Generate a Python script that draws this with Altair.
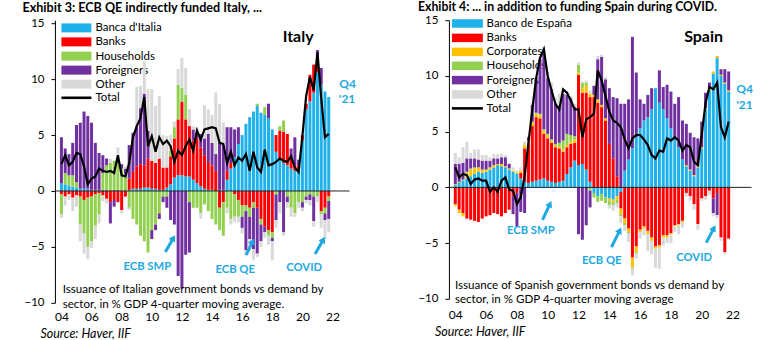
import math
import altair as alt
import pandas as pd

# ---------------- data (quarterly, 2004Q1 .. 2021Q4) ----------------
N_Q = 72
QUARTERS = [2004 + i / 4 for i in range(N_Q)]
TICK_YEARS = list(range(2004, 2023, 2))
Y_TICKS = [-10, -5, 0, 5, 10, 15]

# Italy, % GDP, 4-quarter moving average
it_banca = [0.7, 0.6, 0.5, 0.4, 0.3, 0.2, 0.2, 0.2, 0.1, 0.1, 0.1, 0.1,
            0.1, 0.0, 0.1, 0.1, 0.0, 0.0, 0.1, 0.2, 0.2, 0.2, 0.3, 0.3,
            0.2, 0.2, 0.1, 0.1, 0.3, 0.6, 1.2, 1.4, 1.4, 1.3, 1.3, 1.0,
            0.7, 0.4, 0.2, 0.1, 0.1, 0.0, 0.1, 0.1, 1.0, 2.0, 3.0, 4.2,
            5.0, 6.0, 6.6, 7.1, 7.6, 7.0, 6.8, 6.5, 5.5, 3.5, 2.8, 2.5,
            2.3, 2.0, 1.8, 2.0, 4.5, 7.3, 8.0, 8.8, 10.6, 9.5, 8.9, 8.4]
it_banks = [-0.3, -0.5, -0.3, -0.6, -0.4, -0.5, -0.8, -0.6, -0.5, -0.3, -0.2, -0.4,
            -0.7, -1.0, -0.8, -1.0, -1.7, -0.5, 1.0, 1.5, 2.0, 2.2, 2.0, 2.6,
            2.5, 2.3, 2.8, 2.0, 1.8, 2.5, 3.5, 5.0, 6.6, 5.1, 4.5, 3.5,
            4.0, 3.5, 3.0, 2.5, 2.2, 1.8, -1.5, -1.0, 0.8, 0.5, -0.3, -0.8,
            -1.3, -1.3, -1.5, -1.0, -1.5, -2.5, -3.2, -3.5, -3.7, 1.5, 2.6, 2.8,
            2.8, 1.0, 0.5, 0.3, 0.5, 0.5, 2.4, 2.5, 0.5, -1.8, -1.5, -0.5]
it_households = [-1.8, 1.0, 0.9, 1.0, 0.5, -2.5, -3.0, -4.4, -4.0, -2.8, -1.9, 1.5,
                 2.2, 2.5, 2.6, 2.4, 2.0, 1.5, -1.5, -2.5, -3.0, -4.0, -4.5, -5.5,
                 -3.5, -3.0, -2.0, -0.5, -0.5, 0.5, 1.0, 3.1, 1.2, 2.2, -1.0, -1.5,
                 -1.5, -2.0, -1.2, -1.8, -2.5, -3.0, -2.0, -3.0, -1.5, -2.5, -2.0, -1.5,
                 -1.0, -0.5, -0.8, -0.5, 0.2, -0.5, 0.7, -0.5, -0.5, -0.3, 0.4, 1.0,
                 -0.5, -1.5, -2.0, -1.0, -1.0, -0.5, -0.3, -0.5, -0.5, -0.3, -0.5, -0.4]
it_foreigners = [4.1, 2.2, 1.9, 2.9, 5.1, 5.9, 6.9, 6.5, 6.0, 4.2, 3.3, 1.6,
                 0.6, -1.9, -0.6, 0.3, 0.4, 0.5, 3.0, 3.5, 3.5, 5.0, 6.4, 2.5,
                 -0.8, -0.5, -0.5, -0.5, -1.0, -2.6, -3.0, -7.6, -8.7, -5.7, -4.5, 1.0,
                 0.5, 1.2, 1.5, 2.5, 2.0, 1.5, 4.2, 4.0, 3.9, 3.2, 2.5, 1.5,
                 -1.0, -3.5, -2.0, -3.7, -4.1, -1.5, -0.5, 1.3, -0.3, -2.3, -1.0, -3.7,
                 -0.5, 0.8, 2.5, 0.5, -0.5, -0.3, -0.5, -2.2, 1.5, 1.5, -0.6, -1.6]
it_other = [-0.3, -0.8, -0.5, -1.2, -1.0, -1.5, -1.8, -1.1, -0.6, -1.2, -0.8, -0.5,
            -0.4, 0.4, 0.0, 1.1, -0.3, 0.2, -0.2, 0.0, 3.6, 2.0, 2.9, 3.7,
            6.4, 5.1, 5.6, 2.9, 2.8, 1.4, 0.5, 1.4, 2.7, 2.4, 1.5, 0.3,
            0.5, -0.5, 3.0, 2.2, 2.5, 5.5, 3.5, 2.0, -0.5, -0.5, -0.5, -0.5,
            -0.5, -0.5, -1.0, -1.0, -0.3, -0.5, -0.5, -0.8, -1.7, -0.7, -1.0, -0.3,
            -0.5, -0.8, -0.3, -0.5, -0.3, -0.3, -0.5, -0.5, -0.5, -1.2, -1.7, -1.2]
it_total = [2.4, 3.2, 2.3, 2.6, 3.4, 3.3, 2.2, 0.6, 1.1, 1.3, 2.0, 1.8,
            1.7, 1.8, 1.6, 3.2, 1.4, 1.3, 2.5, 4.8, 5.8, 6.5, 8.4, 4.0,
            4.9, 3.5, 4.8, 4.2, 4.5, 4.0, 2.6, 3.6, 3.2, 4.0, 4.6, 3.6,
            5.4, 4.6, 5.5, 5.6, 5.7, 5.6, 4.3, 4.2, 2.5, 3.5, 2.3, 3.0,
            2.7, 3.3, 1.8, 3.5, 2.1, 1.7, 3.7, 2.3, 2.4, 2.6, 2.9, 2.7,
            2.6, 3.1, 2.1, 1.7, 4.9, 8.5, 10.2, 9.0, 12.4, 8.3, 4.8, 5.1]

# Spain, % GDP, 4-quarter moving average
es_banco = [0.2, 0.4, 0.6, 0.8, 1.0, 1.2, 1.4, 1.3, 1.4, 1.6, 1.8, 2.0,
            1.9, 1.8, 1.6, 1.4, 1.2, 0.8, 0.5, 0.4, 0.5, 0.6, 0.7, 0.8,
            0.6, 0.5, 0.4, 0.5, 0.6, 1.2, 1.8, 2.4, 2.0, 2.1, 1.6, 0.5,
            -0.5, -0.8, -0.6, -0.9, -1.0, -1.1, -0.8, -0.4, 1.5, 2.5, 3.5, 4.5,
            5.3, 6.0, 6.3, 7.0, 8.9, 7.6, 7.0, 6.2, 5.3, 4.5, 3.6, 2.5,
            1.9, 1.5, 1.0, 1.8, 3.5, 7.0, 8.7, 10.2, 11.6, 10.0, 9.3, 8.6]
es_banks = [-1.5, -2.0, -2.3, -2.8, -2.9, -3.0, -3.1, -2.8, -2.6, -2.5, -2.3, -2.4,
            -2.6, -2.3, -2.0, -0.8, -0.5, 0.5, 3.0, 3.5, 5.0, 5.7, 5.5, 4.0,
            3.8, 3.5, 3.2, 3.0, 2.6, 2.4, 2.1, 1.6, 8.1, 6.4, 6.9, 7.6,
            8.1, 7.6, 7.2, 6.0, 3.9, 2.6, 1.0, -1.5, -2.8, -3.7, -6.3, -5.3,
            -3.8, -3.5, -3.9, -4.5, -5.3, -5.2, -4.3, -4.3, -4.1, -3.4, -3.3, -3.0,
            -0.5, -0.8, -1.5, -3.3, -1.0, -0.8, -0.3, -1.0, -0.5, -4.5, -5.8, -4.6]
es_corporates = [-0.2, -0.3, -0.3, 0.5, 0.6, 0.5, 0.4, 0.3, 0.2, 0.2, 0.2, 0.1,
                 0.2, 0.1, 0.1, 0.1, 0.1, 0.2, 0.3, 0.3, 0.3, 0.3, 0.3, 0.3,
                 0.3, 0.2, 0.2, 0.2, 0.2, 0.2, 0.2, 0.3, 0.2, 0.4, 0.6, 0.3,
                 0.2, 0.3, 0.2, 0.2, -0.2, -0.2, -0.3, -0.5, -0.4, -0.3, -0.9, -0.5,
                 -0.2, -0.2, -0.3, -0.3, -0.2, -0.2, -0.2, -0.2, -0.1, -0.1, -0.1, -0.1,
                 0.1, 0.1, 0.1, 0.1, 0.1, 0.1, 0.2, 0.2, 0.2, 0.1, 0.1, 0.1]
es_households = [0.1, 0.1, 0.1, 0.1, 0.1, 0.1, 0.0, 0.0, 0.0, 0.0, 0.0, 0.0,
                 0.0, 0.0, 0.0, 0.0, 0.0, 0.0, 0.0, 0.0, 0.1, 0.1, 0.1, 0.1,
                 0.1, 0.1, 0.1, 0.3, 0.8, 1.0, 0.6, 0.3, 0.7, 0.5, 0.3, -0.3,
                 -0.4, -0.5, -0.6, -0.5, -0.4, -0.3, -0.3, -0.2, -0.2, -0.1, -0.1, -0.1,
                 0.0, 0.0, 0.0, 0.0, 0.0, 0.0, 0.0, 0.0, 0.0, 0.0, 0.0, 0.0,
                 0.0, 0.0, 0.0, 0.0, 0.0, 0.0, 0.0, 0.0, 0.0, 0.0, 0.0, 0.0]
es_foreigners = [1.8, 1.6, 1.5, 1.2, 0.9, 0.8, 0.7, 0.8, 0.8, 0.6, 0.6, 0.5,
                 0.6, 0.8, 0.4, -1.6, -3.0, -2.2, -2.3, 0.3, 1.5, 3.0, 4.9, 6.8,
                 5.0, 4.5, 3.6, 3.2, 4.2, 3.5, 3.3, 2.6, -4.2, -4.7, -3.4, -1.5,
                 0.8, 3.6, 4.3, 3.5, 5.0, 5.5, 7.0, 7.5, 6.0, 5.4, 10.0, 5.8,
                 2.6, 1.5, 2.0, 1.9, 0.0, 2.9, 2.0, 3.0, 3.3, 3.0, 4.5, 3.5,
                 3.7, 3.3, 3.4, 2.5, 2.3, 1.4, 0.5, -1.3, -2.0, 0.5, 1.2, 1.7]
es_other = [1.0, 0.6, 1.4, 1.5, 0.5, 0.8, 0.9, 0.5, 0.5, 0.3, 0.4, 0.4,
            0.3, 0.2, 0.1, 0.3, 0.2, 0.3, 0.3, 0.1, 0.2, 0.2, 0.3, 0.6,
            0.5, 0.6, 0.5, 1.2, 0.3, 0.3, 0.2, 0.3, 0.2, 0.1, 0.2, 0.3,
            0.1, 0.3, 0.2, 0.2, -0.3, -0.5, -0.4, -0.6, -0.5, -0.8, -0.6, -0.5,
            -0.6, -0.6, -1.5, -1.2, -1.7, -1.9, -0.7, -0.5, -0.8, -0.5, -0.8, -0.5,
            -0.3, -0.4, -0.5, -0.5, -0.2, -0.3, -0.4, -0.3, -0.3, -0.3, -0.2, -0.1]
es_total = [1.8, 0.9, 1.2, 1.1, 0.3, 0.7, 0.8, 0.6, 0.6, -0.4, 0.0, -0.4,
            0.6, 0.9, -0.2, -0.3, -1.5, -0.9, 1.0, 4.0, 7.0, 9.8, 11.6, 12.4,
            10.0, 8.7, 7.5, 7.0, 8.8, 8.5, 7.8, 7.0, 7.0, 4.5, 6.1, 6.3,
            6.6, 10.5, 9.6, 8.2, 6.8, 6.0, 5.8, 5.4, 4.3, 3.5, 4.4, 4.7,
            4.7, 4.3, 3.8, 2.9, 2.6, 3.3, 3.2, 4.4, 4.2, 4.5, 4.2, 3.3,
            3.8, 3.6, 2.3, 2.0, 4.7, 7.6, 9.0, 8.8, 9.4, 5.4, 4.5, 5.9]

# ---------------- styling ----------------
FONT = "Lato"
BLUE = "#1FB1EA"
RED = "#FF0000"
YELLOW = "#FFC000"
GREEN = "#92D050"
PURPLE = "#7030A0"
GRAY = "#D9D9D9"
ANN = "#1DA8E2"

COLOR_DOMAIN = ["Banca d'Italia", "Banco de España", "Banks", "Corporates",
                "Households", "Foreigners", "Other"]
COLOR_RANGE = [BLUE, BLUE, RED, YELLOW, GREEN, PURPLE, GRAY]

IT_SERIES = [("Banca d'Italia", it_banca), ("Banks", it_banks),
             ("Households", it_households), ("Foreigners", it_foreigners),
             ("Other", it_other)]
ES_SERIES = [("Banco de España", es_banco), ("Banks", es_banks),
             ("Corporates", es_corporates), ("Households", es_households),
             ("Foreigners", es_foreigners), ("Other", es_other)]


def long_frame(series):
    rows = []
    for k, (name, vals) in enumerate(series):
        for x, v in zip(QUARTERS, vals):
            rows.append({"x": x, "sector": name, "value": v, "ord": k})
    return pd.DataFrame(rows)


ONE = pd.DataFrame({"t": [""]})


def text(s, x, y, size=11, weight="normal", color="black", align="left",
         baseline="middle", style="normal"):
    return alt.Chart(pd.DataFrame({"t": [s]})).mark_text(
        font=FONT, fontSize=size, fontWeight=weight, color=color,
        align=align, baseline=baseline, fontStyle=style
    ).encode(x=alt.value(x), y=alt.value(y), text="t:N")


def rect(x1, y1, x2, y2, color):
    return alt.Chart(ONE).mark_rect(color=color).encode(
        x=alt.value(x1), x2=alt.value(x2), y=alt.value(y1), y2=alt.value(y2))


def hline(x1, x2, y, color, w):
    return alt.Chart(ONE).mark_rule(color=color, strokeWidth=w).encode(
        x=alt.value(x1), x2=alt.value(x2), y=alt.value(y), y2=alt.value(y))


def arrow(tail, head, color=ANN):
    (x0, y0), (x1, y1) = tail, head
    dx, dy = x1 - x0, y1 - y0
    L = math.hypot(dx, dy)
    ux, uy = dx / L, dy / L
    ang = math.degrees(math.atan2(dx, -dy)) % 360
    shaft = alt.Chart(ONE).mark_rule(color=color, strokeWidth=3).encode(
        x=alt.value(x0), y=alt.value(y0),
        x2=alt.value(x1 - ux * 6), y2=alt.value(y1 - uy * 6))
    tip = alt.Chart(ONE).mark_point(shape="triangle-up", filled=True, size=55,
                                    angle=ang, color=color, opacity=1).encode(
        x=alt.value(x1 - ux * 3.5), y=alt.value(y1 - uy * 3.5))
    return [shaft, tip]


def panel(series, total, xdom, ydom, width, height, legend_items, legend_x,
          legend_ys, legend_tx, sw_h, label_pad, extras):
    xaxis = alt.Axis(values=TICK_YEARS, labelExpr="substring(toString(datum.value), 2, 4)",
                     domain=False, ticks=False, grid=False, labelPadding=label_pad,
                     labelFontSize=12, labelFont=FONT, labelColor="black",
                     labelFlush=False, title=None)
    yaxis = alt.Axis(values=Y_TICKS, grid=False, domain=True, domainColor="black",
                     tickColor="black", tickSize=4, labelFontSize=11.5,
                     labelFont=FONT, labelColor="black", labelPadding=7,
                     labelFlush=False, title=None)
    xs = alt.Scale(domain=xdom, nice=False, zero=False)
    ys = alt.Scale(domain=ydom, nice=False, zero=False)

    layers = []
    # legend (under the bars)
    for (name, color, kind), yc in zip(legend_items, legend_ys):
        if kind == "rect":
            layers.append(rect(legend_x[0], yc - sw_h / 2, legend_x[1], yc + sw_h / 2, color))
        else:
            layers.append(hline(legend_x[0], legend_x[1], yc, color, 2.6))
        layers.append(text(name, legend_tx, yc + 0.5, size=11.5))

    bars = alt.Chart(long_frame(series)).mark_bar(size=3).encode(
        x=alt.X("x:Q", scale=xs, axis=xaxis),
        y=alt.Y("value:Q", stack="zero", scale=ys, axis=yaxis),
        color=alt.Color("sector:N", scale=alt.Scale(domain=COLOR_DOMAIN, range=COLOR_RANGE),
                        legend=None),
        order=alt.Order("ord:Q", sort="ascending"),
    )
    zero = alt.Chart(ONE).mark_rule(color="#222222", strokeWidth=1).encode(y=alt.datum(0))
    line = alt.Chart(pd.DataFrame({"x": QUARTERS, "total": total})).mark_line(
        color="black", strokeWidth=2.2).encode(
        x=alt.X("x:Q", scale=xs, axis=xaxis),
        y=alt.Y("total:Q", scale=ys, axis=yaxis))
    layers += [bars, zero, line] + extras
    return alt.layer(*layers).properties(width=width, height=height)


# ---------------- Italy panel (origin at plot top-left) ----------------
it_legend = [("Banca d'Italia", BLUE, "rect"), ("Banks", RED, "rect"),
             ("Households", GREEN, "rect"), ("Foreigners", PURPLE, "rect"),
             ("Other", GRAY, "rect"), ("Total", "black", "line")]
it_extras = [
    # canvas corners so the whole page is exactly 778 x 340
    rect(-54.5, -20, -53.5, -19, "white"),
    rect(722.5, 319, 723.5, 320, "white"),
    text("Exhibit 3: ECB QE indirectly funded Italy, ...", -32.5, -8, size=12.6,
         weight="bold", baseline="alphabetic"),
    text("Italy", 243.5, 17, size=16, weight="bold", align="center"),
    text("Q4", 293, 64, size=12, weight="bold", color=ANN, align="center"),
    text("'21", 292.5, 79, size=12, weight="bold", color=ANN, align="center"),
    text("ECB SMP", 92.5, 247, size=11.3, weight="bold", color=ANN, align="center"),
    text("ECB QE", 180.5, 250, size=11.3, weight="bold", color=ANN, align="center"),
    text("COVID", 249.5, 248, size=11.3, weight="bold", color=ANN, align="center"),
    text("Issuance of Italian government bonds vs demand by", 7.8, 273.5, size=11.6,
         baseline="alphabetic"),
    text("sector, in % GDP 4-quarter moving average.", 7.8, 288, size=11.6,
         baseline="alphabetic"),
    text("Source: Haver, IIF", -14.5, 318, size=12.5, style="italic",
         baseline="alphabetic"),
]
it_extras += arrow((110.5, 232), (120.5, 215))
it_extras += arrow((191.5, 235), (199.5, 218.3))
it_extras += arrow((260.5, 234), (270.5, 216.7))

left = panel(IT_SERIES, it_total, [2003.9, 2022.8], [-10, 15.27], 295, 283,
             it_legend, (6.5, 36.5), [7.7, 21.7, 36, 50, 64, 77.7], 40.5, 9, 9,
             it_extras)

# ---------------- Spain panel ----------------
es_legend = [(" Banco de España", BLUE, "rect"), ("Banks", RED, "rect"),
             ("Corporates", YELLOW, "rect"), ("Households", GREEN, "rect"),
             ("Foreigners", PURPLE, "rect"), ("Other", GRAY, "rect"),
             ("Total", "black", "line")]
es_extras = [
    text("Exhibit 4: ... in addition to funding Spain during COVID.", -31, -9.5, size=12.3,
         weight="bold", baseline="alphabetic"),
    text("Spain", 255, 17, size=16, weight="bold", align="center"),
    text("Q4", 296, 69, size=12, weight="bold", color=ANN, align="center"),
    text("'21", 296, 85, size=12, weight="bold", color=ANN, align="center"),
    text("ECB SMP", 82, 211, size=11.3, weight="bold", color=ANN, align="center"),
    text("ECB QE", 153, 241, size=11.3, weight="bold", color=ANN, align="center"),
    text("COVID", 245.5, 238, size=11.3, weight="bold", color=ANN, align="center"),
    text("Issuance of Spanish government bonds vs demand by", 6, 269.5, size=11.6,
         baseline="alphabetic"),
    text("sector, in % GDP 4-quarter moving average", 6, 283.5, size=11.6,
         baseline="alphabetic"),
    text("Source: Haver, IIF", -14, 316.5, size=12.5, style="italic",
         baseline="alphabetic"),
]
es_extras += arrow((93.7, 200), (102.7, 180.7))
es_extras += arrow((162.7, 227.3), (172.7, 207.3))
es_extras += arrow((257.7, 222.7), (267, 205))

right = panel(ES_SERIES, es_total, [2003.91, 2022.91], [-10, 15], 303, 279,
              es_legend, (3, 34), [3.3, 17.7, 31.7, 45.7, 60, 74.3, 88.3], 37.7, 8.5, 11,
              es_extras)

chart = alt.hconcat(left, right, spacing=99.5, bounds="flush").properties(
    padding=0, background="white"
).configure_view(stroke=None)

chart.save("out.html", embed_options={"renderer": "svg", "actions": False})
